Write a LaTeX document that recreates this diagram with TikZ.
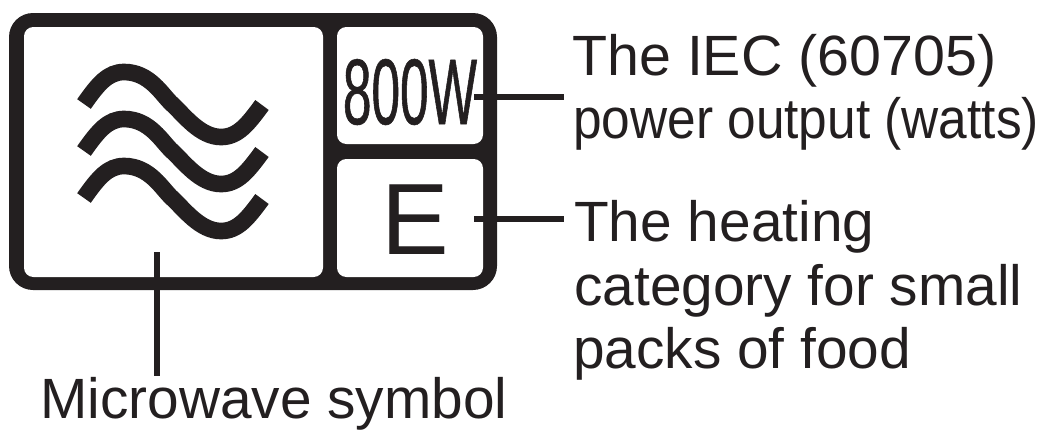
\documentclass[tikz,border=0pt]{standalone}
\usepackage{fontspec}
\setmainfont{Liberation Sans}
\definecolor{ink}{HTML}{231F20}
\begin{document}
\begin{tikzpicture}[x=.75pt,y=-.75pt,
  wave/.style={draw=ink,line width=12.5pt,line cap=butt},
  lead/.style={draw=ink,line width=4.4pt},
  caption/.style={text=ink,font=\fontsize{42.6}{51}\selectfont,align=left,inner sep=0pt,anchor=base west}]
  \useasboundingbox (0,0) rectangle (1044,430);

  % outer frame and panels
  \fill [ink,rounded corners=18pt] (9,13) rectangle (497,290);
  \fill [white,rounded corners=7pt] (24,27) rectangle (323,277);
  \fill [white,rounded corners=7pt] (337,27) rectangle (483,144);
  \fill [white,rounded corners=7pt] (337,159) rectangle (483,277);

  % waves
  \foreach \dy in {0,47,94}{
    \draw [wave,shift={(0,\dy)}] (84,104) .. controls (98,84) and (108,72) .. (124,72)
      .. controls (150,72) and (162,95) .. (172,104) .. controls (184,115) and (200,137) .. (221,137)
      .. controls (238,137) and (248,124) .. (262,105);
  }

  % labels
  \node [text=ink,inner sep=0pt,font=\fontsize{70}{70}\selectfont\addfontfeature{FakeStretch=0.55,FakeBold=0.6}] (power) at (410,92) {800W};
  \node [text=ink,inner sep=0pt,font=\fontsize{76}{76}\selectfont] (cat) at (415,219.5) {E};
  \node [caption] (iec) at (572,75) {\addfontfeature{FakeStretch=1.01}The IEC (60705)};
  \node [caption] (out) at (573,138) {\addfontfeature{FakeStretch=0.905}power output (watts)};
  \node [caption] (heat) at (574,241) {The heating};
  \node [caption] (cats) at (574,305) {category for small};
  \node [caption] (packs) at (573,368) {packs of food};
  \node [caption] (sym) at (40,418) {Microwave symbol};

  % leader lines
  \coordinate (a) at (474,97);
  \coordinate (b) at (564,97);
  \coordinate (c) at (474,219);
  \coordinate (d) at (564,219);
  \coordinate (e) at (157,252);
  \coordinate (f) at (157,376);
  \draw [lead] (a) -- (b);
  \draw [lead] (c) -- (d);
  \draw [lead] (e) -- (f);
\end{tikzpicture}
\end{document}
